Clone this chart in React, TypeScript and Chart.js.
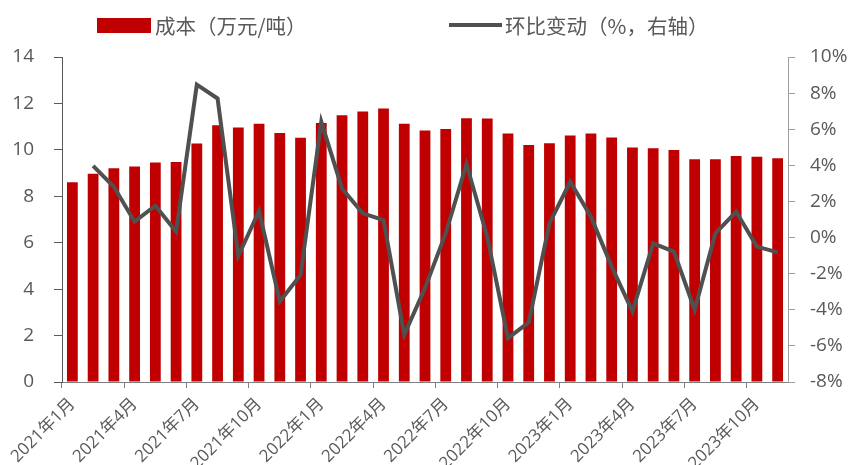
import React, { useEffect, useRef } from "react";
import { Chart, registerables } from "chart.js";

Chart.register(...registerables);

const categories = [
  "2021年1月", "2021年2月", "2021年3月", "2021年4月", "2021年5月", "2021年6月",
  "2021年7月", "2021年8月", "2021年9月", "2021年10月", "2021年11月", "2021年12月",
  "2022年1月", "2022年2月", "2022年3月", "2022年4月", "2022年5月", "2022年6月",
  "2022年7月", "2022年8月", "2022年9月", "2022年10月", "2022年11月", "2022年12月",
  "2023年1月", "2023年2月", "2023年3月", "2023年4月", "2023年5月", "2023年6月",
  "2023年7月", "2023年8月", "2023年9月", "2023年10月", "2023年11月",
];

const costValues = [
  8.61, 8.97, 9.21, 9.28, 9.46, 9.48,
  10.27, 11.06, 10.96, 11.12, 10.73, 10.52,
  11.16, 11.49, 11.65, 11.78, 11.12, 10.83,
  10.9, 11.36, 11.35, 10.7, 10.21, 10.29,
  10.62, 10.7, 10.53, 10.1, 10.07, 9.99,
  9.6, 9.6, 9.74, 9.7, 9.64,
];

const momValues = [
  null, 3.97, 2.81, 0.88, 1.76, 0.33,
  8.47, 7.7, -1.02, 1.47, -3.54, -2.07,
  6.41, 2.72, 1.34, 0.97, -5.38, -2.8,
  0.24, 4.07, 0.05, -5.57, -4.7, 0.79,
  3.09, 1.16, -1.61, -4.09, -0.32, -0.78,
  -4.0, 0.24, 1.43, -0.5, -0.82,
];

const seriesNames = ["成本（万元/吨）", "环比变动（%，右轴）"];

const BAR_COLOR = "#C00000";
const LINE_COLOR = "#505050";
const TEXT_COLOR = "#595959";
const FONT = '"Open Sans", "Noto Sans CJK SC", sans-serif';

export default function App() {
  const canvasRef = useRef<HTMLCanvasElement | null>(null);

  useEffect(() => {
    const canvas = canvasRef.current;
    if (!canvas) return;
    const chart = new Chart(canvas, {
      type: "bar",
      data: {
        labels: categories,
        datasets: [
          {
            type: "line",
            label: seriesNames[1],
            data: momValues,
            yAxisID: "y1",
            borderColor: LINE_COLOR,
            backgroundColor: LINE_COLOR,
            borderWidth: 4,
            pointRadius: 0,
            tension: 0,
            order: 0,
          } as any,
          {
            type: "bar",
            label: seriesNames[0],
            data: costValues,
            yAxisID: "y",
            backgroundColor: BAR_COLOR,
            barPercentage: 0.52,
            categoryPercentage: 1,
            order: 1,
          },
        ],
      },
      options: {
        responsive: false,
        animation: false,
        layout: { padding: { top: 57, left: 0, right: 0, bottom: 0 } },
        plugins: {
          legend: { display: false },
          tooltip: { enabled: false },
        },
        scales: {
          x: {
            offset: true,
            grid: {
              offset: true,
              drawOnChartArea: false,
              drawTicks: true,
              tickLength: 6,
              color: (ctx: any) => (ctx.index % 3 === 0 ? "#7f7f7f" : "rgba(0,0,0,0)"),
            },
            border: { color: "#7f7f7f", width: 1 },
            ticks: {
              autoSkip: false,
              maxRotation: 45,
              minRotation: 45,
              padding: 6,
              color: TEXT_COLOR,
              font: { family: FONT, size: 17 },
              callback: (_v: any, i: number) => (i % 3 === 0 ? categories[i] : ""),
            },
            afterFit: (s: any) => {
              s.height = 83;
            },
          },
          y: {
            position: "left",
            min: 0,
            max: 14,
            grid: { drawOnChartArea: false, drawTicks: true, tickLength: 8, color: "#595959" },
            border: { color: "#595959", width: 1 },
            ticks: {
              stepSize: 2,
              padding: 20,
              color: TEXT_COLOR,
              font: { family: FONT, size: 19 },
            },
            afterFit: (s: any) => {
              s.width = 62;
            },
          },
          y1: {
            position: "right",
            min: -8,
            max: 10,
            grid: { drawOnChartArea: false, drawTicks: true, tickLength: 7, color: "#a0a0a0" },
            border: { color: "#a0a0a0", width: 1 },
            ticks: {
              stepSize: 2,
              padding: 15,
              color: TEXT_COLOR,
              font: { family: FONT, size: 19 },
              callback: (v: any) => `${v}%`,
            },
            afterFit: (s: any) => {
              s.width = 65;
            },
          },
        },
      },
    });
    return () => chart.destroy();
  }, []);

  const legendText: React.CSSProperties = {
    position: "absolute",
    top: 11,
    fontFamily: '"Noto Sans CJK SC", sans-serif',
    fontSize: 20.5,
    lineHeight: "28px",
    color: TEXT_COLOR,
    whiteSpace: "nowrap",
  };

  return (
    <div style={{ position: "fixed", left: 0, top: 0, width: 853, height: 465, background: "#fff" }}>
      <canvas ref={canvasRef} width={853} height={465} style={{ position: "absolute", left: 0, top: 0 }} />
      <div style={{ position: "absolute", left: 97, top: 18, width: 54, height: 15, background: BAR_COLOR }} />
      <div style={{ ...legendText, left: 155 }}>{seriesNames[0]}</div>
      <div style={{ position: "absolute", left: 449, top: 23, width: 53, height: 4, background: LINE_COLOR }} />
      <div style={{ ...legendText, left: 505 }}>{seriesNames[1]}</div>
    </div>
  );
}
